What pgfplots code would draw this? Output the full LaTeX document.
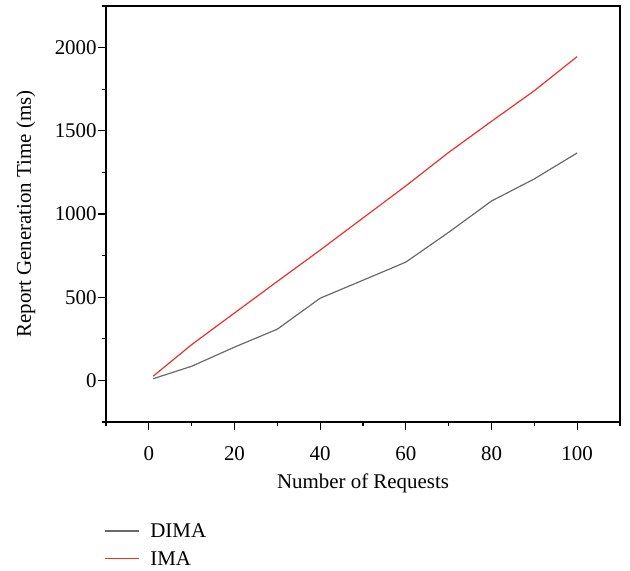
\documentclass[border=0pt]{standalone}
\usepackage{fontspec}
\setmainfont{Liberation Serif}
\usepackage{pgfplots}
\pgfplotsset{compat=1.18}
\definecolor{dimagray}{RGB}{105,105,105}
\definecolor{imared}{RGB}{240,45,45}
\begin{document}
\fontsize{10.5}{12.6}\selectfont
\begin{tikzpicture}
\begin{axis}[
  scale only axis,
  width=257bp, height=208bp,
  xmin=-10, xmax=110, ymin=-250, ymax=2250,
  xtick={0,20,40,60,80,100},
  ytick={0,500,1000,1500,2000},
  minor xtick={-10,10,30,50,70,90,110},
  minor ytick={-250,250,750,1250,1750,2250},
  tick pos=left, tick align=outside,
  major tick length=4bp, minor tick length=2.2bp,
  every tick/.style={black, line width=0.6pt},
  axis line style={line width=0.7pt, black},
  /pgf/number format/assume math mode=true,
  /pgf/number format/1000 sep={},
  ticklabel style={font=\fontsize{10.5}{12.6}\selectfont},
  xticklabel style={yshift=-4.5bp},
  yticklabel style={xshift=3bp},
  xlabel={Number of Requests},
  ylabel={Report Generation Time (ms)},
  label style={font=\fontsize{10.5}{12.6}\selectfont},
  xlabel style={yshift=0.5bp},
  ylabel style={yshift=2.5bp},
  legend style={draw=none, fill=none, at={(axis description cs:0,-0.225)}, anchor=north west,
    font=\fontsize{10.5}{12.6}\selectfont, row sep=1.2bp, xshift=-5.5bp},
  legend cell align=left,
  legend image code/.code={},
]
\addplot[color=dimagray, line width=0.6pt] coordinates {
  (1,10) (10,85) (20,200) (30,308) (40,494) (50,602) (60,711) (70,890) (80,1078) (90,1211) (100,1367)
};
\addlegendentry{\textcolor{dimagray}{\rule[0.3em]{17bp}{0.6pt}}\hspace{5.5bp}DIMA}
\addplot[color=imared, line width=0.6pt] coordinates {
  (1,25) (10,215) (20,405) (30,595) (40,783) (50,976) (60,1169) (70,1370) (80,1557) (90,1741) (100,1946)
};
\addlegendentry{\textcolor{imared}{\rule[0.3em]{17bp}{0.6pt}}\hspace{5.5bp}IMA}
\end{axis}
\pgfresetboundingbox
\path ([shift={(-53bp,-74.5bp)}]current axis.south west) rectangle ([shift={(5bp,3bp)}]current axis.north east);
\end{tikzpicture}
\end{document}
